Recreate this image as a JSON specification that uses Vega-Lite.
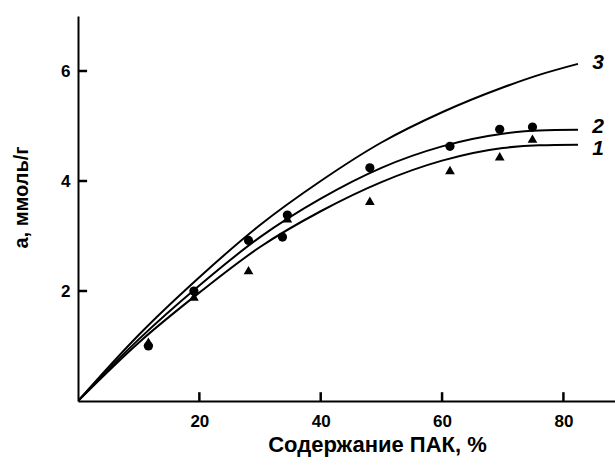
{
  "$schema": "https://vega.github.io/schema/vega-lite/v6.json",
  "width": 537,
  "height": 385,
  "autosize": {"type": "none"},
  "padding": {"left": 78, "top": 16, "right": 0, "bottom": 66},
  "background": "white",
  "config": {
    "view": {"stroke": null},
    "font": "Liberation Sans",
    "axis": {
      "domainColor": "black",
      "domainWidth": 2,
      "labelFont": "Liberation Sans",
      "labelFontWeight": "bold",
      "labelFontSize": 17,
      "labelColor": "black",
      "titleFont": "Liberation Sans",
      "titleFontWeight": "bold",
      "titleFontSize": 20,
      "titleColor": "black"
    }
  },
  "datasets": {
    "curves": [
      {"curve": "1", "x": 0, "y": 0}, {"curve": "1", "x": 10, "y": 1.06}, {"curve": "1", "x": 20, "y": 1.97}, {"curve": "1", "x": 30, "y": 2.8}, {"curve": "1", "x": 40, "y": 3.45}, {"curve": "1", "x": 50, "y": 3.98}, {"curve": "1", "x": 60, "y": 4.37}, {"curve": "1", "x": 70, "y": 4.6}, {"curve": "1", "x": 76, "y": 4.65}, {"curve": "1", "x": 82.4, "y": 4.66},
      {"curve": "2", "x": 0, "y": 0}, {"curve": "2", "x": 10, "y": 1.12}, {"curve": "2", "x": 20, "y": 2.1}, {"curve": "2", "x": 30, "y": 2.98}, {"curve": "2", "x": 40, "y": 3.68}, {"curve": "2", "x": 50, "y": 4.24}, {"curve": "2", "x": 60, "y": 4.63}, {"curve": "2", "x": 70, "y": 4.86}, {"curve": "2", "x": 76, "y": 4.92}, {"curve": "2", "x": 82.4, "y": 4.93},
      {"curve": "3", "x": 0, "y": 0}, {"curve": "3", "x": 10, "y": 1.2}, {"curve": "3", "x": 20, "y": 2.25}, {"curve": "3", "x": 30, "y": 3.2}, {"curve": "3", "x": 40, "y": 4.0}, {"curve": "3", "x": 50, "y": 4.7}, {"curve": "3", "x": 60, "y": 5.25}, {"curve": "3", "x": 70, "y": 5.7}, {"curve": "3", "x": 76, "y": 5.93}, {"curve": "3", "x": 82.4, "y": 6.13}
    ],
    "points": [
      {"type": "circle", "x": 11.6, "y": 1.0}, {"type": "circle", "x": 19.1, "y": 2.0}, {"type": "circle", "x": 28.1, "y": 2.92}, {"type": "circle", "x": 33.7, "y": 2.98}, {"type": "circle", "x": 34.5, "y": 3.38}, {"type": "circle", "x": 48.1, "y": 4.24}, {"type": "circle", "x": 61.3, "y": 4.63}, {"type": "circle", "x": 69.5, "y": 4.94}, {"type": "circle", "x": 74.9, "y": 4.98},
      {"type": "triangle", "x": 11.6, "y": 1.08}, {"type": "triangle", "x": 19.1, "y": 1.9}, {"type": "triangle", "x": 28.1, "y": 2.38}, {"type": "triangle", "x": 34.5, "y": 3.32}, {"type": "triangle", "x": 48.1, "y": 3.64}, {"type": "triangle", "x": 61.3, "y": 4.2}, {"type": "triangle", "x": 69.5, "y": 4.45}, {"type": "triangle", "x": 74.9, "y": 4.77}
    ],
    "labels": [
      {"label": "1", "x": 85.7, "y": 4.58},
      {"label": "2", "x": 85.7, "y": 4.98},
      {"label": "3", "x": 85.7, "y": 6.15}
    ],
    "xticks": [{"v": 20}, {"v": 40}, {"v": 60}, {"v": 80}],
    "yticks": [{"v": 2}, {"v": 4}, {"v": 6}]
  },
  "layer": [
    {
      "data": {"name": "curves"},
      "mark": {"type": "line", "interpolate": "monotone", "color": "black", "strokeWidth": 2, "clip": true},
      "encoding": {
        "x": {"field": "x", "type": "quantitative", "scale": {"domain": [0, 88.5], "nice": false},
          "axis": {"values": [20, 40, 60, 80], "format": "d", "grid": false, "ticks": false, "title": "Содержание ПАК, %", "labelPadding": 12, "titleFontSize": 22, "titleX": 299, "titleY": 50, "titleBaseline": "alphabetic"}},
        "y": {"field": "y", "type": "quantitative", "scale": {"domain": [0, 7], "nice": false},
          "axis": {"values": [2, 4, 6], "format": "d", "grid": false, "ticks": false, "title": "a, ммоль/г", "labelPadding": 8, "titleX": -47, "titleY": 181, "titleBaseline": "bottom"}},
        "detail": {"field": "curve"}
      }
    },
    {
      "data": {"name": "xticks"},
      "mark": {"type": "rule", "color": "black", "strokeWidth": 2.5},
      "encoding": {
        "x": {"field": "v", "type": "quantitative", "title": "Содержание ПАК, %"},
        "y": {"datum": 0, "type": "quantitative", "title": "a, ммоль/г"},
        "y2": {"datum": 0.16}
      }
    },
    {
      "data": {"name": "yticks"},
      "mark": {"type": "rule", "color": "black", "strokeWidth": 2.5},
      "encoding": {
        "y": {"field": "v", "type": "quantitative", "title": "a, ммоль/г"},
        "x": {"datum": 0, "type": "quantitative", "title": "Содержание ПАК, %"},
        "x2": {"datum": 1.5}
      }
    },
    {
      "data": {"name": "points"},
      "mark": {"type": "point", "filled": true, "color": "black", "opacity": 1},
      "encoding": {
        "x": {"field": "x", "type": "quantitative"},
        "y": {"field": "y", "type": "quantitative"},
        "shape": {"field": "type", "type": "nominal", "scale": {"domain": ["circle", "triangle"], "range": ["circle", "triangle-up"]}, "legend": null},
        "size": {"field": "type", "type": "nominal", "scale": {"domain": ["circle", "triangle"], "range": [85, 95]}, "legend": null}
      }
    },
    {
      "data": {"name": "labels"},
      "mark": {"type": "text", "font": "Liberation Sans", "fontWeight": "bold", "fontStyle": "italic", "fontSize": 21, "color": "black", "align": "center", "baseline": "middle"},
      "encoding": {
        "x": {"field": "x", "type": "quantitative"},
        "y": {"field": "y", "type": "quantitative"},
        "text": {"field": "label"}
      }
    }
  ]
}
